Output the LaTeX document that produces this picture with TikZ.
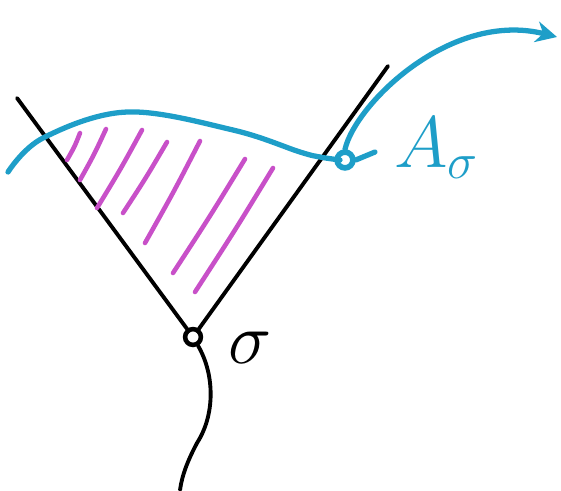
\documentclass[tikz,border=0pt]{standalone}
\usepackage{amsmath,amssymb}
\usepackage{tikz}
\usetikzlibrary{arrows.meta,calc}

\definecolor{penblue}{RGB}{30,158,200}
\definecolor{penpink}{RGB}{200,80,200}

\tikzset{
  blackpen/.style={line width=1.1pt, line cap=round},
  bluepen/.style={penblue, line width=1.5pt, line cap=round},
  hatchpen/.style={penpink, line width=1.3pt, line cap=round},
  dot/.style={circle, draw, line width=1.3pt, inner sep=0pt, minimum size=4.5pt}
}

\begin{document}
\begin{tikzpicture}[x=1cm, y=1cm]
\useasboundingbox (0,0) rectangle (5.61,4.90);

% the vertex and the two arms
\node[dot, black] (sigma) at (1.93,1.53) {};
\coordinate (lefttop) at (0.17,3.92);
\coordinate (righttop) at (3.88,4.24);
\draw[blackpen] (lefttop) -- (sigma);
\draw[blackpen] (sigma) -- (righttop);
\draw[blackpen] (sigma) .. controls (2.15,1.15) and (2.15,0.75) .. (1.97,0.47)
  .. controls (1.88,0.30) and (1.82,0.15) .. (1.80,0.0);
\node[font=\fontsize{22}{24}\selectfont] (sigmalabel) at (2.50,1.42) {$\sigma$};

% hatching
\foreach \xa/\ya/\xb/\yb in {0.67/3.30/0.80/3.57, 0.80/3.10/1.06/3.61, 0.97/2.82/1.42/3.60,
  1.23/2.77/1.67/3.48, 1.45/2.47/2.00/3.49, 1.73/2.17/2.45/3.31, 1.95/1.98/2.73/3.22}
  \draw[hatchpen] (\xa,\ya) .. controls ($(\xa,\ya)!0.5!(\xb,\yb)+(0.012,0)$) .. (\xb,\yb);

% the blue curve and its point
\node[dot, penblue, line width=1.6pt] (Apt) at (3.45,3.30) {};
\draw[bluepen] plot[smooth, tension=0.6] coordinates {(0.08,3.18) (0.43,3.52) (1.27,3.78)
  (2.33,3.60) (3.00,3.38) (3.20,3.33) (3.40,3.30)};
\draw[bluepen] (Apt.east) -- (3.75,3.38);
\coordinate (tip) at (5.57,4.53);
\draw[bluepen, -{Stealth[length=6pt, width=6pt]}] (Apt.north) .. controls (3.55,3.85) and (4.5,4.8) .. (tip);
\node[penblue, font=\fontsize{22}{24}\selectfont] (Alabel) at (4.37,3.42) {$A_{\sigma}$};
\end{tikzpicture}
\end{document}
